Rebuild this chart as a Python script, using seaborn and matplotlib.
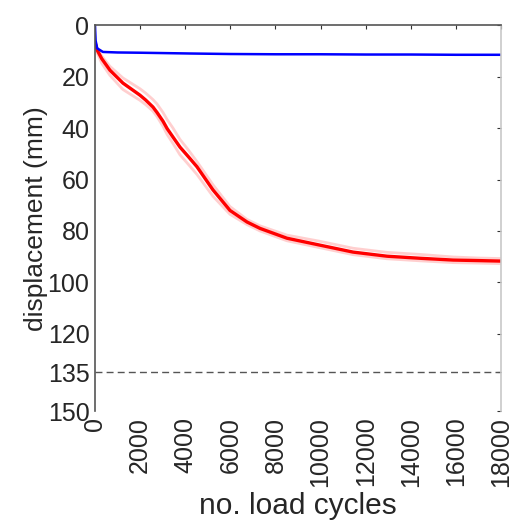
import numpy as np
import pandas as pd
import matplotlib
matplotlib.use("Agg")
import matplotlib.pyplot as plt
import seaborn as sns

# Settlement under repeated loading (two test configurations)
red_cycles = [0, 100, 300, 665, 1240, 1995, 2250, 2570, 2750, 3015, 3200, 3460,
              3770, 4150, 4520, 5230, 5985, 6740, 7320, 8510, 9975, 11440, 12945,
              14410, 15875, 17000, 18000]
red_mean = [6.5, 9.7, 13.0, 17.5, 22.5, 27.2, 29.1, 31.8, 33.9, 37.3, 40.2, 43.5,
            47.4, 51.2, 55.0, 64.0, 72.0, 76.5, 79.0, 82.8, 85.5, 88.2, 89.8,
            90.6, 91.3, 91.5, 91.7]
# individual runs around the mean curve
red_run_a = [6.5, 9.2, 12.0, 16.0, 20.5, 24.7, 26.4, 28.9, 30.6, 33.9, 36.7, 40.0,
             44.4, 48.6, 53.0, 62.0, 70.5, 75.5, 78.0, 81.6, 84.0, 86.7, 88.3,
             89.1, 90.1, 90.5, 90.7]
red_run_b = [6.5, 10.7, 14.8, 19.5, 25.0, 29.2, 30.9, 33.4, 35.5, 39.3, 42.5, 46.0,
             50.4, 54.2, 58.0, 66.5, 73.5, 77.5, 80.0, 83.8, 86.5, 89.2, 90.8,
             91.6, 92.3, 92.5, 92.7]

blue_cycles = [0, 30, 100, 355, 1000, 2000, 4210, 6000, 8000, 10000, 12000,
               14000, 16000, 18000]
blue_mean = [0.0, 6.0, 9.0, 10.4, 10.6, 10.7, 11.0, 11.2, 11.3, 11.3, 11.4,
             11.4, 11.5, 11.5]

limit_mm = 135
x_ticks = [0, 2000, 4000, 6000, 8000, 10000, 12000, 14000, 16000, 18000]
y_ticks = [0, 20, 40, 60, 80, 100, 120, 135, 150]

sns.set_style("white")
plt.rcParams["font.family"] = ["Liberation Sans", "DejaVu Sans"]

fig = plt.figure(figsize=(5.16, 5.25), dpi=100)
ax = fig.add_axes([0.184, 0.217, 0.787, 0.735])

runs = pd.concat([
    pd.DataFrame({"cycles": red_cycles, "disp": red_run_a, "run": "a"}),
    pd.DataFrame({"cycles": red_cycles, "disp": red_run_b, "run": "b"}),
])
sns.lineplot(data=runs, x="cycles", y="disp", units="run", estimator=None,
             sort=False, color="#ffc4c4", lw=2.0, alpha=0.8, ax=ax, legend=False)
sns.lineplot(x=red_cycles, y=red_mean, sort=False, color="#ff0000", lw=2.4, ax=ax)
sns.lineplot(x=blue_cycles, y=blue_mean, sort=False, color="#0000ff", lw=1.8, ax=ax)

ax.axhline(limit_mm, color="#555555", lw=1.0, ls=(0, (5, 3)))

ax.set_xlim(0, 18000)
ax.set_ylim(150, 0)
ax.set_xticks(x_ticks)
ax.set_yticks(y_ticks)
ax.set_xticklabels([str(t) for t in x_ticks], rotation=90)
ax.tick_params(axis="both", direction="in", length=3, width=0.8, color="#333333",
               labelsize=18, labelcolor="#262626", top=True, right=True, pad=4)

for side, col in [("left", "#555555"), ("top", "#555555"), ("right", "#c8c8c8")]:
    ax.spines[side].set_visible(True)
    ax.spines[side].set_color(col)
    ax.spines[side].set_linewidth(1.2)
ax.spines["bottom"].set_visible(False)

ax.set_xlabel("no. load cycles", fontsize=21.5, color="#262626", labelpad=4)
ax.set_ylabel("displacement (mm)", fontsize=19, color="#262626", labelpad=0)

fig.savefig("out.png", dpi=100)
